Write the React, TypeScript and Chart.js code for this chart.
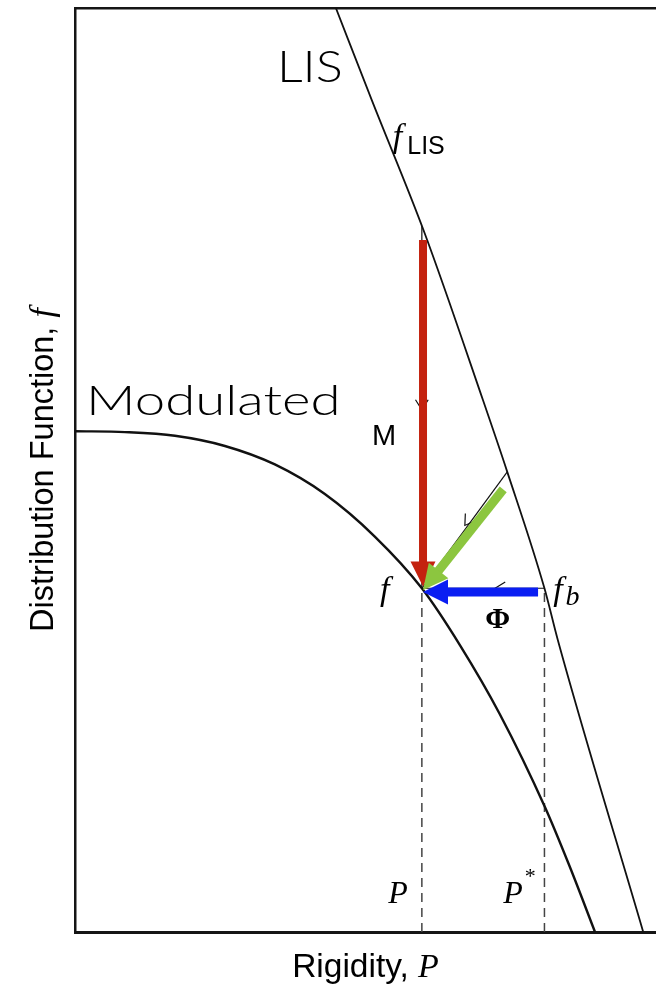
import React, { useEffect, useRef } from 'react';
import { Chart, registerables } from 'chart.js';

Chart.register(...registerables);

// Rigidity P (arbitrary units, 0–100) and distribution function f (arbitrary units, 0–100)
const lisRigidity = [44.9, 51.1, 60.2, 70.2, 74.4, 80.8, 83.1, 97.8];
const lisF = [100, 90, 75.6, 57.6, 49.8, 37.2, 31.6, 0];

const modRigidity = [0, 8.6, 17.2, 25.8, 34.4, 43.0, 51.6, 59.7, 66.3, 73.1, 80.9, 85.2, 89.5];
const modF = [54.2, 54.1, 53.7, 52.6, 50.6, 47.4, 42.8, 37.2, 31.0, 23.6, 13.5, 7.0, 0];

// Characteristic points
const pValue = 59.7; // rigidity P of the modulated point
const pStar = 80.8; // rigidity P* of the boundary point
const fValue = 37.2; // f(P) = f_b(P*)
const lisAtP = 76.4; // f_LIS at P
const diagStart = [74.4, 49.8]; // point on the LIS where the diagonal path starts

// Coloured arrows: [start], [tip]
const arrowM = [[59.9, 74.9], [59.9, 37.4]];
const arrowDiag = [[73.7, 47.9], [59.9, 37.0]];
const arrowPhi = [[79.7, 36.8], [59.9, 36.8]];

// Small open arrowheads on the thin paths: [position], [direction target]
const chevronM = [[pValue, 56.5], [pValue, fValue]];
const chevronDiag = [[67.1, 44.0], [pValue, fValue]];
const chevronPhi = [[72.3, fValue], [pValue, fValue]];

const SANS = '"Liberation Sans", Arial, sans-serif';
const SERIF = '"Liberation Serif", "Times New Roman", serif';
const GEO = 'Lato, "Noto Sans", sans-serif';

type Run = { text: string; font: string; dy?: number; dx?: number; sx?: number };
type Label = { x: number; y: number; align?: 'left' | 'right'; runs: Run[] };

const labels: Label[] = [
  { x: 46.1, y: 92.0, align: 'right', runs: [{ text: 'LIS', font: `300 44px ${GEO}`, sx: 1.15 }] },
  { x: 1.9, y: 56.0, runs: [{ text: 'Modulated', font: `300 42px ${GEO}`, sx: 1.3 }] },
  {
    x: 54.7,
    y: 85.0,
    runs: [
      { text: 'f', font: `italic 34px ${SERIF}` },
      { text: 'LIS', font: `25px ${SANS}`, dy: 7, dx: 5 },
    ],
  },
  { x: 51.1, y: 52.7, runs: [{ text: 'M', font: `29px ${SANS}` }] },
  { x: 52.5, y: 35.9, runs: [{ text: 'f', font: `italic 34px ${SERIF}` }] },
  {
    x: 82.3,
    y: 35.9,
    runs: [
      { text: 'f', font: `italic 34px ${SERIF}` },
      { text: 'b', font: `italic 28px ${SERIF}`, dy: 5, dx: 3 },
    ],
  },
  { x: 70.6, y: 32.9, runs: [{ text: 'Φ', font: `bold 30px ${SERIF}` }] },
  { x: 53.9, y: 3.1, runs: [{ text: 'P', font: `italic 32px ${SERIF}` }] },
  {
    x: 73.7,
    y: 3.1,
    runs: [
      { text: 'P', font: `italic 32px ${SERIF}` },
      { text: '*', font: `22px ${SERIF}`, dy: -20, dx: 2 },
    ],
  },
];

const xTitle: Run[] = [
  { text: 'Rigidity, ', font: `33.5px ${SANS}` },
  { text: 'P', font: `italic 34px ${SERIF}` },
];
const yTitle: Run[] = [
  { text: 'Distribution Function, ', font: `32.5px ${SANS}` },
  { text: 'f', font: `italic 34px ${SERIF}` },
];

const pts = (xs: number[], ys: number[]) => xs.map((x, i) => ({ x, y: ys[i] }));

function runsWidth(ctx: CanvasRenderingContext2D, runs: Run[]) {
  let w = 0;
  for (const r of runs) {
    ctx.font = r.font;
    w += ctx.measureText(r.text).width * (r.sx || 1) + (r.dx || 0);
  }
  return w;
}

function drawRuns(ctx: CanvasRenderingContext2D, x: number, y: number, runs: Run[]) {
  let cx = x;
  for (const r of runs) {
    ctx.font = r.font;
    cx += r.dx || 0;
    const sx = r.sx || 1;
    ctx.save();
    ctx.translate(cx, y + (r.dy || 0));
    ctx.scale(sx, 1);
    ctx.fillText(r.text, 0, 0);
    ctx.restore();
    cx += ctx.measureText(r.text).width * sx;
  }
}

function drawArrow(
  ctx: CanvasRenderingContext2D,
  x0: number,
  y0: number,
  x1: number,
  y1: number,
  color: string,
  width: number,
  headLen: number,
  headW: number
) {
  const a = Math.atan2(y1 - y0, x1 - x0);
  const ux = Math.cos(a);
  const uy = Math.sin(a);
  const bx = x1 - ux * headLen;
  const by = y1 - uy * headLen;
  ctx.save();
  ctx.strokeStyle = color;
  ctx.fillStyle = color;
  ctx.lineWidth = width;
  ctx.lineCap = 'butt';
  ctx.beginPath();
  ctx.moveTo(x0, y0);
  ctx.lineTo(bx + ux, by + uy);
  ctx.stroke();
  ctx.beginPath();
  ctx.moveTo(x1, y1);
  ctx.lineTo(bx - (uy * headW) / 2, by + (ux * headW) / 2);
  ctx.lineTo(bx + (uy * headW) / 2, by - (ux * headW) / 2);
  ctx.closePath();
  ctx.fill();
  ctx.restore();
}

function drawChevron(ctx: CanvasRenderingContext2D, x: number, y: number, tx: number, ty: number) {
  const a = Math.atan2(ty - y, tx - x);
  const len = 12;
  const spread = (32 * Math.PI) / 180;
  ctx.save();
  ctx.strokeStyle = '#111';
  ctx.lineWidth = 1.2;
  ctx.beginPath();
  ctx.moveTo(x - Math.cos(a - spread) * len, y - Math.sin(a - spread) * len);
  ctx.lineTo(x, y);
  ctx.lineTo(x - Math.cos(a + spread) * len, y - Math.sin(a + spread) * len);
  ctx.stroke();
  ctx.restore();
}

const annotations = {
  id: 'modulationAnnotations',
  afterDatasetsDraw(chart: any) {
    const { ctx, scales, chartArea } = chart;
    const px = (v: number) => scales.x.getPixelForValue(v);
    const py = (v: number) => scales.y.getPixelForValue(v);

    for (const [[x, y], [tx, ty]] of [chevronM, chevronDiag, chevronPhi]) {
      drawChevron(ctx, px(x), py(y), px(tx), py(ty));
    }

    const arrows: [number[][], string, number][] = [
      [arrowM, '#c4220f', 8],
      [arrowDiag, '#8cc63f', 9],
      [arrowPhi, '#0a1ef2', 9],
    ];
    for (const [[[x0, y0], [x1, y1]], color, w] of arrows) {
      drawArrow(ctx, px(x0), py(y0), px(x1), py(y1), color, w, 25, 25);
    }

    ctx.save();
    ctx.fillStyle = '#000';
    ctx.textBaseline = 'alphabetic';
    ctx.textAlign = 'left';
    for (const l of labels) {
      let x = px(l.x);
      if (l.align === 'right') x -= runsWidth(ctx, l.runs);
      drawRuns(ctx, x, py(l.y), l.runs);
    }

    // axis titles
    const cx = (chartArea.left + chartArea.right) / 2;
    drawRuns(ctx, cx - runsWidth(ctx, xTitle) / 2, 977, xTitle);

    const cy = (chartArea.top + chartArea.bottom) / 2;
    ctx.translate(53, cy);
    ctx.rotate(-Math.PI / 2);
    drawRuns(ctx, -runsWidth(ctx, yTitle) / 2, 0, yTitle);
    ctx.restore();
  },
};

const thin = { borderColor: '#111', borderWidth: 1.2, pointRadius: 0, showLine: true };
const dashed = { borderColor: '#444', borderWidth: 1.5, borderDash: [9, 6], pointRadius: 0, showLine: true };

export default function App() {
  const ref = useRef<HTMLCanvasElement>(null);

  useEffect(() => {
    const chart = new Chart(ref.current as HTMLCanvasElement, {
      type: 'scatter',
      data: {
        datasets: [
          {
            label: 'LIS',
            data: pts(lisRigidity, lisF),
            borderColor: '#111',
            borderWidth: 1.8,
            showLine: true,
            pointRadius: 0,
            cubicInterpolationMode: 'monotone',
          },
          {
            label: 'Modulated',
            data: pts(modRigidity, modF),
            borderColor: '#111',
            borderWidth: 2.4,
            showLine: true,
            pointRadius: 0,
            cubicInterpolationMode: 'monotone',
          },
          { label: 'P', data: [{ x: pValue, y: 0 }, { x: pValue, y: fValue }], ...dashed },
          { label: 'P*', data: [{ x: pStar, y: 0 }, { x: pStar, y: fValue }], ...dashed },
          { label: 'M path', data: [{ x: pValue, y: lisAtP }, { x: pValue, y: fValue }], ...thin },
          {
            label: 'diagonal path',
            data: [{ x: diagStart[0], y: diagStart[1] }, { x: pValue, y: fValue }],
            ...thin,
          },
          { label: 'Φ path', data: [{ x: pStar, y: fValue }, { x: pValue, y: fValue }], ...thin },
        ] as any,
      },
      options: {
        animation: false,
        responsive: false,
        devicePixelRatio: 1,
        events: [],
        layout: { padding: 0 },
        plugins: { legend: { display: false }, tooltip: { enabled: false }, title: { display: false } },
        scales: {
          x: {
            type: 'linear',
            position: 'bottom',
            min: 0,
            max: 100,
            grid: { display: false },
            ticks: { display: false },
            border: { display: true, color: '#151515', width: 3 },
            afterFit: (s: any) => {
              s.height = 52;
            },
          },
          xTop: {
            type: 'linear',
            position: 'top',
            min: 0,
            max: 100,
            grid: { display: false },
            ticks: { display: false },
            border: { display: true, color: '#151515', width: 2.5 },
            afterFit: (s: any) => {
              s.height = 8;
            },
          },
          y: {
            type: 'linear',
            position: 'left',
            min: 0,
            max: 100,
            grid: { display: false },
            ticks: { display: false },
            border: { display: true, color: '#151515', width: 2.5 },
            afterFit: (s: any) => {
              s.width = 75;
            },
          },
        },
      } as any,
      plugins: [annotations],
    });
    return () => chart.destroy();
  }, []);

  return (
    <div style={{ position: 'absolute', left: 0, top: 0, width: 656, height: 984, background: '#fff' }}>
      <canvas ref={ref} width={656} height={984} style={{ display: 'block' }} />
    </div>
  );
}
